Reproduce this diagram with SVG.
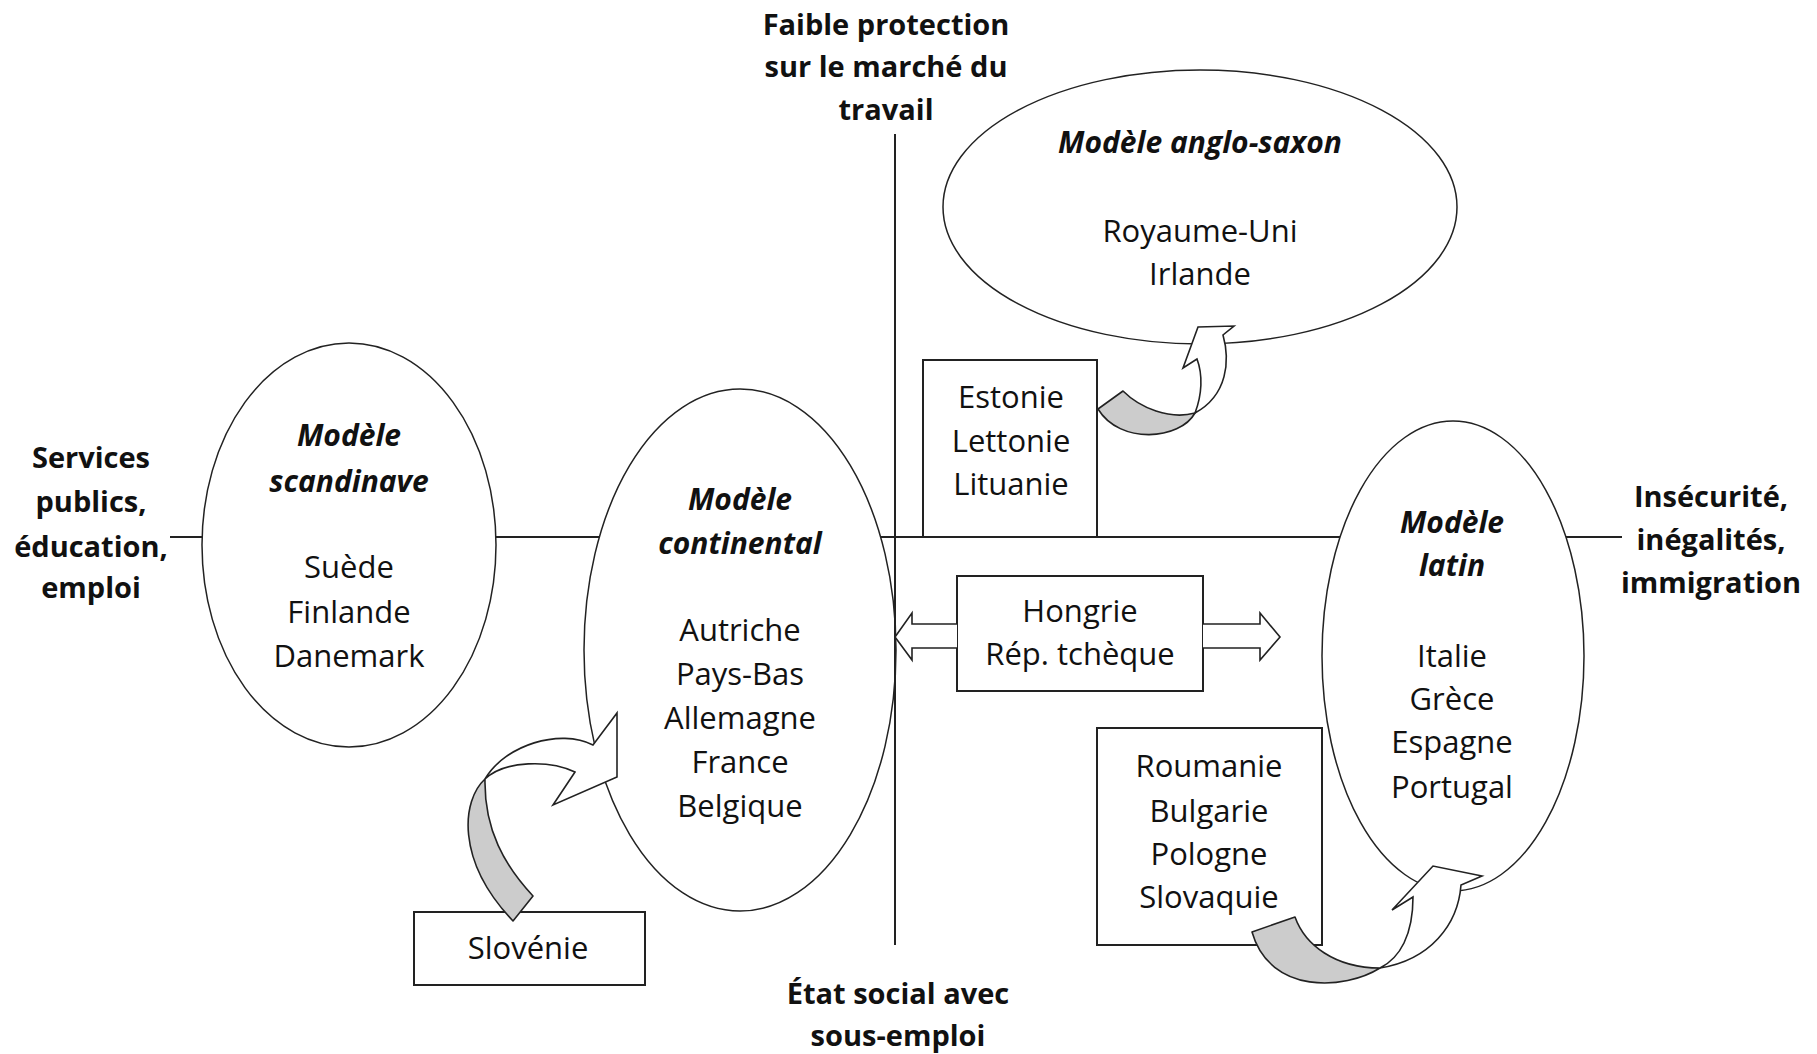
<svg xmlns="http://www.w3.org/2000/svg" width="1817" height="1054" viewBox="0 0 1817 1054">
<style>
  text { font-family: "Open Sans", "Liberation Sans", sans-serif; fill: #111; text-anchor: middle; }
  .reg { font-size: 31px; }
  .lbl { font-size: 29px; font-weight: bold; }
  .ttl { font-size: 30px; font-weight: bold; font-style: italic; }
  .shape { fill: #fff; stroke: #222; stroke-width: 1.5; }
  .box { fill: #fff; stroke: #222; stroke-width: 2; }
  .axis { stroke: #222; stroke-width: 2; fill: none; }
  .tail { fill: #cccccc; stroke: #222; stroke-width: 1.6; stroke-linejoin: round; }
  .head { fill: #fff; stroke: #222; stroke-width: 1.6; stroke-linejoin: miter; }
</style>
<rect width="1817" height="1054" fill="#fff"/>

<g id="axes">
  <line class="axis" x1="170" y1="537" x2="1622" y2="537"/>
</g>

<g id="label-top">
  <text class="lbl" x="886" y="35">Faible protection</text>
  <text class="lbl" x="886" y="77">sur le marché du</text>
  <text class="lbl" x="886" y="120">travail</text>
</g>
<g id="label-left">
  <text class="lbl" x="91" y="468">Services</text>
  <text class="lbl" x="91" y="512">publics,</text>
  <text class="lbl" x="91" y="557">éducation,</text>
  <text class="lbl" x="91" y="598">emploi</text>
</g>
<g id="label-right">
  <text class="lbl" x="1711" y="507">Insécurité,</text>
  <text class="lbl" x="1711" y="550">inégalités,</text>
  <text class="lbl" x="1711" y="593">immigration</text>
</g>
<g id="label-bottom">
  <text class="lbl" x="898" y="1004">État social avec</text>
  <text class="lbl" x="898" y="1046">sous-emploi</text>
</g>

<g id="scandinave">
  <ellipse class="shape" cx="349" cy="545" rx="147" ry="202"/>
  <text class="ttl" x="349" y="446">Modèle</text>
  <text class="ttl" x="349" y="492">scandinave</text>
  <text class="reg" x="349" y="578">Suède</text>
  <text class="reg" x="349" y="623">Finlande</text>
  <text class="reg" x="349" y="667">Danemark</text>
</g>

<g id="continental">
  <ellipse class="shape" cx="740" cy="650" rx="156" ry="261"/>
  <text class="ttl" x="740" y="510">Modèle</text>
  <text class="ttl" x="740" y="554">continental</text>
  <text class="reg" x="740" y="641">Autriche</text>
  <text class="reg" x="740" y="685">Pays-Bas</text>
  <text class="reg" x="740" y="729">Allemagne</text>
  <text class="reg" x="740" y="773">France</text>
  <text class="reg" x="740" y="817">Belgique</text>
</g>

<g id="anglo-saxon">
  <ellipse class="shape" cx="1200" cy="207" rx="257" ry="137"/>
  <text class="ttl" x="1200" y="153">Modèle anglo-saxon</text>
  <text class="reg" x="1200" y="242">Royaume-Uni</text>
  <text class="reg" x="1200" y="285">Irlande</text>
</g>

<g id="latin">
  <ellipse class="shape" cx="1453" cy="656" rx="131" ry="235"/>
  <text class="ttl" x="1452" y="533">Modèle</text>
  <text class="ttl" x="1452" y="576">latin</text>
  <text class="reg" x="1452" y="667">Italie</text>
  <text class="reg" x="1452" y="710">Grèce</text>
  <text class="reg" x="1452" y="753">Espagne</text>
  <text class="reg" x="1452" y="798">Portugal</text>
</g>

<g id="baltes">
  <rect class="box" x="923" y="360" width="174" height="177"/>
  <text class="reg" x="1011" y="408">Estonie</text>
  <text class="reg" x="1011" y="452">Lettonie</text>
  <text class="reg" x="1011" y="495">Lituanie</text>
</g>

<g id="hongrie">
  <rect class="box" x="957" y="576" width="246" height="115"/>
  <text class="reg" x="1080" y="622">Hongrie</text>
  <text class="reg" x="1080" y="665">Rép. tchèque</text>
</g>

<g id="roumanie">
  <rect class="box" x="1097" y="728" width="225" height="217"/>
  <text class="reg" x="1209" y="777">Roumanie</text>
  <text class="reg" x="1209" y="822">Bulgarie</text>
  <text class="reg" x="1209" y="865">Pologne</text>
  <text class="reg" x="1209" y="908">Slovaquie</text>
</g>

<g id="slovenie">
  <rect class="box" x="414" y="912" width="231" height="73"/>
  <text class="reg" x="528" y="959">Slovénie</text>
</g>

<g id="connectors">
  <line class="axis" x1="895" y1="134" x2="895" y2="945"/>
  <!-- Slovénie to continental -->
  <path class="tail" d="M513,921 L533,896 C505,866 484,830 485,779 C462,800 455,860 513,921 Z"/>
  <path class="head" d="M485,779 C505,745 560,728 593,745 L617,713 L617,777 L553,805 L575,772 C550,760 505,760 485,779 Z"/>
  <!-- Baltes to anglo-saxon -->
  <path class="tail" d="M1098,409 L1123,391 C1140,408 1170,420 1195,413 C1180,440 1120,445 1098,409 Z"/>
  <path class="head" d="M1195,413 C1202,395 1203,375 1197,359 L1183,368 L1198,327 L1234,326 L1223,335 C1230,360 1228,395 1195,413 Z"/>
  <!-- Roumanie to latin -->
  <path class="tail" d="M1252,932 L1295,917 C1305,945 1335,968 1380,968 C1345,990 1270,995 1252,932 Z"/>
  <path class="head" d="M1380,968 C1400,958 1413,935 1413,897 L1392,910 L1433,866 L1482,876 L1461,885 C1458,925 1430,960 1380,968 Z"/>
  <!-- Hongrie double arrows -->
  <path class="head" d="M957,624 L912,624 L912,613 L895,637 L912,660 L912,648 L957,648"/>
  <path class="head" d="M1203,624 L1260,624 L1260,613 L1280,637 L1260,660 L1260,648 L1203,648"/>
</g>
</svg>
